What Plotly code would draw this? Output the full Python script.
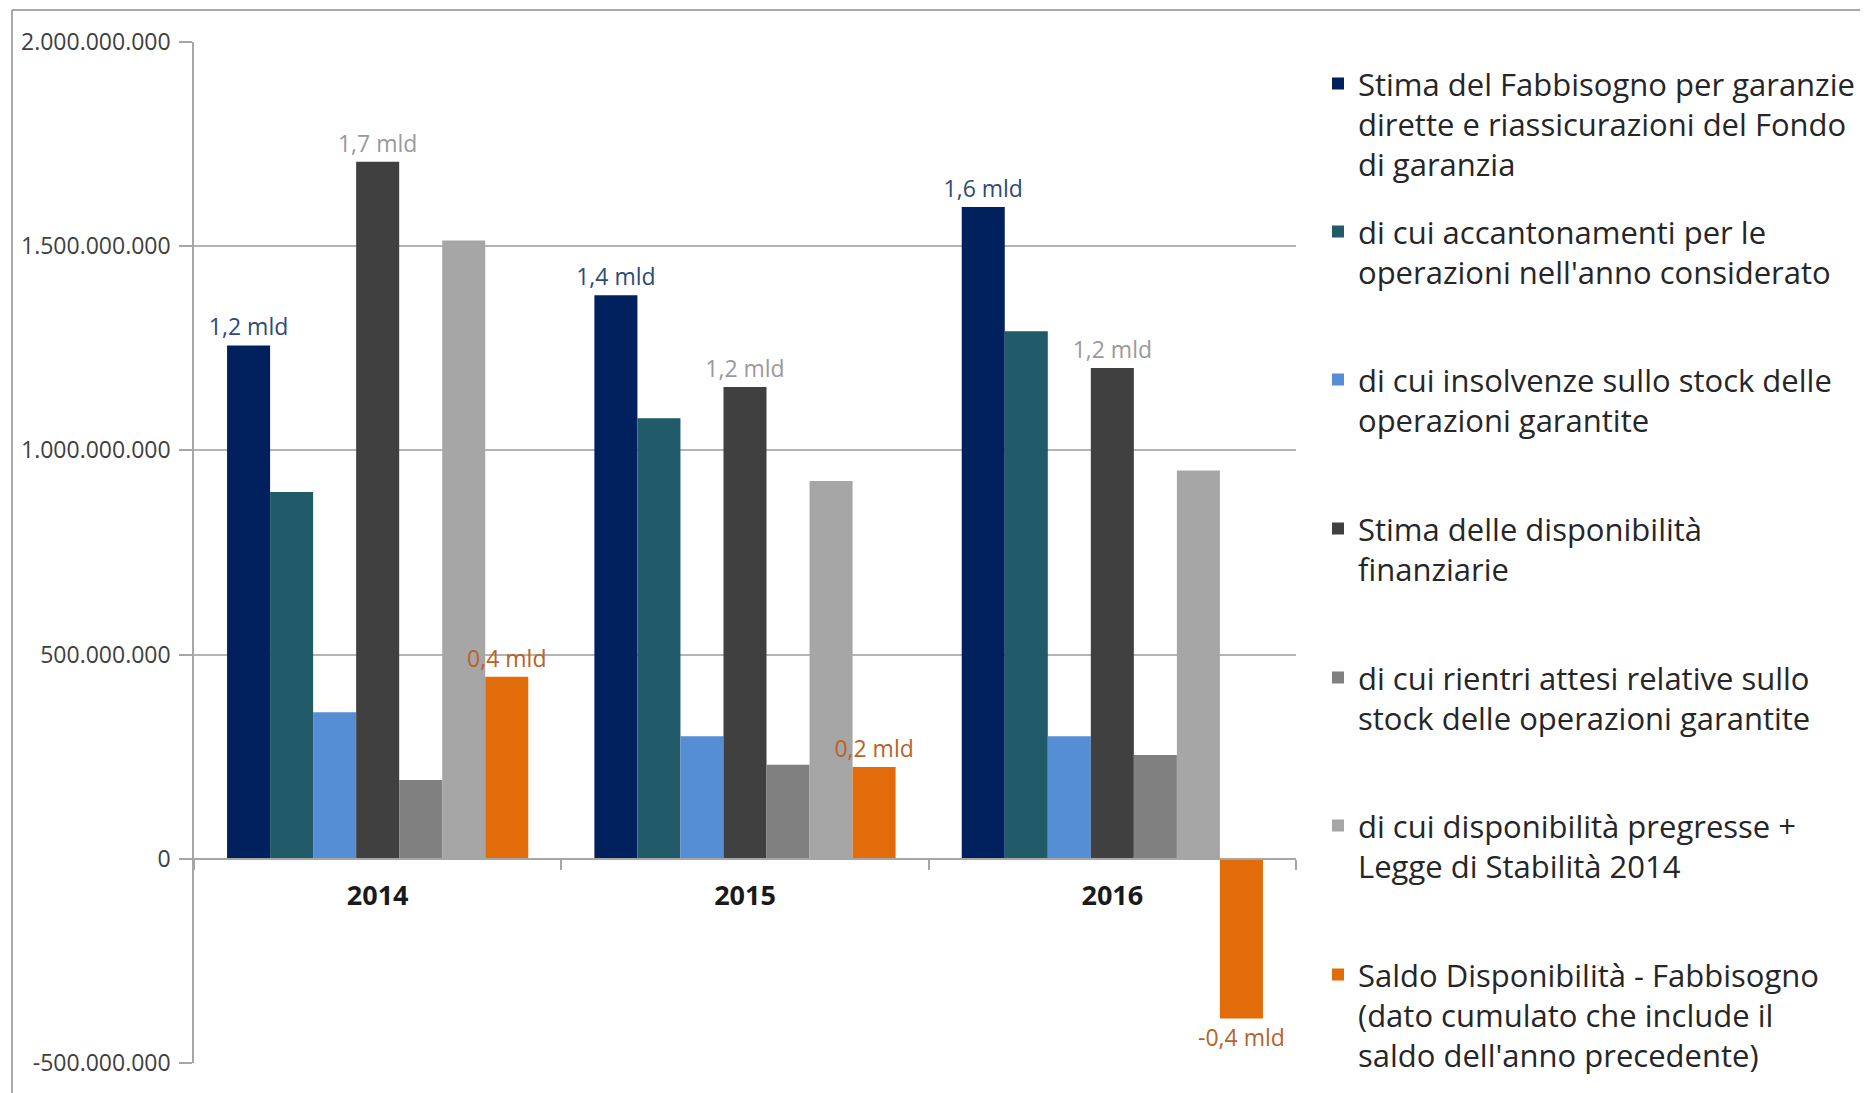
import plotly.graph_objects as go

# ---------------- data ----------------
years = ["2014", "2015", "2016"]

series_names = [
    "Stima del Fabbisogno per garanzie<br>dirette e riassicurazioni del Fondo<br>di garanzia",
    "di cui accantonamenti per le<br>operazioni nell'anno considerato",
    "di cui insolvenze sullo stock delle<br>operazioni garantite",
    "Stima delle disponibilità<br>finanziarie",
    "di cui rientri attesi relative sullo<br>stock delle operazioni garantite",
    "di cui disponibilità pregresse +<br>Legge di Stabilità 2014",
    "Saldo Disponibilità - Fabbisogno<br>(dato cumulato che include il<br>saldo dell'anno precedente)",
]

fabbisogno = [1257e6, 1380e6, 1596e6]
accantonamenti = [898e6, 1079e6, 1292e6]
insolvenze = [359e6, 300e6, 300e6]
disponibilita = [1707e6, 1155e6, 1202e6]
rientri = [193e6, 230e6, 254e6]
pregresse = [1514e6, 925e6, 951e6]
saldo = [446e6, 225e6, -391e6]

labels_fabbisogno = ["1,2 mld", "1,4 mld", "1,6 mld"]
labels_disponibilita = ["1,7 mld", "1,2 mld", "1,2 mld"]
labels_saldo = ["0,4 mld", "0,2 mld", "-0,4 mld"]

y_tickvals = [-500e6, 0, 500e6, 1000e6, 1500e6, 2000e6]
y_ticktext = ["-500.000.000", "0", "500.000.000", "1.000.000.000",
              "1.500.000.000", "2.000.000.000"]
y_range = [-500e6, 2000e6]

# ---------------- style ----------------
bar_colors = ["#00205E", "#215A68", "#558ED5", "#404040", "#808080", "#A6A6A6", "#E36C0A"]
label_colors = {0: "#2E4A78", 3: "#9A9A9A", 6: "#B8622A"}
FONT = "Open Sans"

OFF = 8                      # default page (body) margin
W, H = 1868 - OFF, 1093 - OFF
ML, MT = 194 - OFF, 42 - OFF
PLOT_W, PLOT_H = 1102, 1021
MR = W - ML - PLOT_W
MB = H - MT - PLOT_H

all_values = [fabbisogno, accantonamenti, insolvenze, disponibilita, rientri, pregresse, saldo]
all_labels = {0: labels_fabbisogno, 3: labels_disponibilita, 6: labels_saldo}

# legend first-line centres (px from top of the window)
legend_line_centres = [82, 230, 378, 527, 676, 824, 973]
legend_font_size = 31
legend_x_px = 1318 - OFF

fig = go.Figure()
for i, (name, vals) in enumerate(zip(series_names, all_values)):
    lg = "legend" if i == 0 else f"legend{i+1}"
    kw = {}
    if i in all_labels:
        kw = dict(
            text=all_labels[i],
            textposition="outside",
            outsidetextfont=dict(family=FONT, size=23, color=label_colors[i]),
            constraintext="none",
            cliponaxis=False,
        )
    fig.add_trace(go.Bar(
        x=years, y=vals, name=name,
        marker=dict(color=bar_colors[i], line=dict(width=0)),
        legend=lg,
        hoverinfo="skip",
        **kw,
    ))

zero_pos = (0 - y_range[0]) / (y_range[1] - y_range[0])

layout_legends = {}
for i, c in enumerate(legend_line_centres):
    key = "legend" if i == 0 else f"legend{i+1}"
    top_px = (c - OFF) - legend_font_size * 1.3 / 2 - 5
    layout_legends[key] = dict(
        xref="container", yref="container",
        x=legend_x_px / W, y=1 - top_px / H,
        xanchor="left", yanchor="top",
        valign="top",
        bgcolor="rgba(0,0,0,0)",
        borderwidth=0,
        font=dict(family=FONT, size=legend_font_size, color="#262626"),
    )

border_x = (12 - OFF - ML) / PLOT_W
border_top = 1 + (MT - (10 - OFF)) / PLOT_H

fig.update_layout(
    width=W, height=H,
    margin=dict(l=ML, r=MR, t=MT, b=MB),
    paper_bgcolor="white", plot_bgcolor="white",
    barmode="group", bargap=0.18, bargroupgap=0,
    showlegend=True,
    font=dict(family=FONT, color="#404040"),
    xaxis=dict(
        type="category",
        anchor="free", position=zero_pos,
        showline=True, linecolor="#A6A6A6", linewidth=1.5,
        ticks="outside", tickson="boundaries", ticklen=10, tickcolor="#A6A6A6", tickwidth=1.5,
        tickfont=dict(family=FONT, size=27, color="#1A1A1A", weight="bold"),
        ticklabelstandoff=13,
        showgrid=False, zeroline=False,
    ),
    yaxis=dict(
        range=y_range,
        tickvals=y_tickvals, ticktext=y_ticktext,
        showline=True, linecolor="#A6A6A6", linewidth=1.5,
        ticks="outside", ticklen=13, tickcolor="#A6A6A6", tickwidth=1.5,
        tickfont=dict(family=FONT, size=23, color="#404040"),
        ticklabelstandoff=4,
        showgrid=True, gridcolor="#B4B4B4", gridwidth=1.5,
        zeroline=False,
    ),
    shapes=[
        # outer chart border (left and top edges visible in the reference)
        dict(type="line", xref="paper", yref="paper",
             x0=border_x, x1=border_x, y0=-0.2, y1=border_top,
             line=dict(color="#8C8C8C", width=1.5)),
        dict(type="line", xref="paper", yref="paper",
             x0=border_x, x1=1 + MR / PLOT_W, y0=border_top, y1=border_top,
             line=dict(color="#8C8C8C", width=1.5)),
    ],
    **layout_legends,
)

fig.write_html("out.html")
